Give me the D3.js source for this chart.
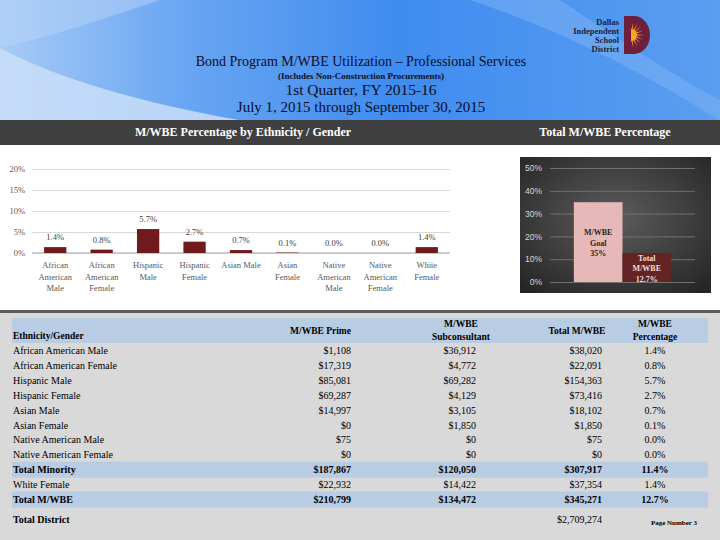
<!DOCTYPE html>
<html><head><meta charset="utf-8">
<script src="https://cdn.jsdelivr.net/npm/d3@7"></script>
<style>body{margin:0;background:#fff}svg{display:block}text{font-family:"Liberation Serif","Times New Roman",serif}</style>
</head><body><svg id="c" width="720" height="540"></svg>
<script>
// ---------- data ----------
const categories = ["African American Male","African American Female","Hispanic Male","Hispanic Female","Asian Male","Asian Female","Native American Male","Native American Female","White Female"];
const pctValues = [1.4,0.8,5.7,2.7,0.7,0.1,0.0,0.0,1.4];
const leftTicks = [0,5,10,15,20];
const totalCategories = ["M/WBE Goal","Total M/WBE"];
const totalValues = [35,12.7];
const totalLabels = [["M/WBE","Goal","35%"],["Total","M/WBE","12.7%"]];
const rightTicks = [0,10,20,30,40,50];
const tableRows = ["African American Male","African American Female","Hispanic Male","Hispanic Female","Asian Male","Asian Female","Native American Male","Native American Female","Total Minority","White Female","Total M/WBE"];
const primeValues = [1108,17319,85081,69287,14997,0,75,0,187867,22932,210799];
const subValues = [36912,4772,69282,4129,3105,1850,0,0,120050,14422,134472];
const totalMwbe = [38020,22091,154363,73416,18102,1850,75,0,307917,37354,345271];
const pctTable = [1.4,0.8,5.7,2.7,0.7,0.1,0.0,0.0,11.4,1.4,12.7];
const totalRows = ["Total Minority","Total M/WBE"];
const totalDistrict = 2709274;

const svg = d3.select("#c");
const defs = svg.append("defs");

// ---------- header background ----------
const bg = defs.append("linearGradient").attr("id","bg").attr("x1","0").attr("y1","0").attr("x2","1").attr("y2","0");
bg.append("stop").attr("offset","0").attr("stop-color","#a7cbf5");
bg.append("stop").attr("offset","0.25").attr("stop-color","#6aa6f2");
bg.append("stop").attr("offset","0.55").attr("stop-color","#3f8cef");
bg.append("stop").attr("offset","1").attr("stop-color","#5a9ef1");
svg.append("rect").attr("x",0).attr("y",0).attr("width",720).attr("height",121).attr("fill","url(#bg)");
svg.append("path").attr("d","M0,48 C60,80 150,105 245,121 L0,121 Z").attr("fill","#c9def8").attr("opacity",0.85);
svg.append("path").attr("d","M0,0 L160,0 C100,20 40,40 0,48 Z").attr("fill","#b8d4f7").attr("opacity",0.5);
svg.append("path").attr("d","M470,0 L560,0 C620,40 680,80 720,100 L720,121 C640,70 560,30 470,0 Z").attr("fill","#7fb3f4").attr("opacity",0.5);

// logo
const logoText = ["Dallas","Independent","School","District"];
svg.append("g").selectAll("text").data(logoText).join("text")
  .attr("x",619).attr("y",(d,i)=>25+i*9).attr("text-anchor","end")
  .attr("font-size",8.5).attr("font-weight","bold").attr("fill","#1a1f3d").text(d=>d);
svg.append("path").attr("d","M624,16 H634 A16,19 0 0 1 634,54 H624 Z").attr("fill","#6e1f3c");
const sun = svg.append("g").attr("transform","translate(631,35)");
d3.range(-80,81,20).forEach(a=>{
  const r=a*Math.PI/180;
  sun.append("path").attr("d",`M${Math.cos(r+0.18)*4},${Math.sin(r+0.18)*4} L${Math.cos(r)*13},${Math.sin(r)*13} L${Math.cos(r-0.18)*4},${Math.sin(r-0.18)*4} Z`).attr("fill","#f7a823");
});
sun.append("path").attr("d","M0,-6 A6,6 0 0 1 0,6 Z").attr("fill","#f7a823");

// titles
const titles = [
  {t:"Bond Program M/WBE Utilization \u2013 Professional Services", y:66, s:14, w:"normal"},
  {t:"(Includes Non-Construction Procurements)", y:79, s:9, w:"bold"},
  {t:"1st Quarter, FY 2015-16", y:95, s:15.5, w:"normal"},
  {t:"July 1, 2015 through September 30, 2015", y:112, s:15, w:"normal"}
];
svg.append("g").selectAll("text").data(titles).join("text")
  .attr("x",361).attr("y",d=>d.y).attr("text-anchor","middle")
  .attr("font-size",d=>d.s).attr("font-weight",d=>d.w).attr("fill","#0d0d26").text(d=>d.t);

// dark section bar
svg.append("rect").attr("x",0).attr("y",120).attr("width",720).attr("height",25).attr("fill","#404040");
svg.append("text").attr("x",243).attr("y",136).attr("text-anchor","middle").attr("font-size",12).attr("font-weight","bold").attr("fill","#fff").text("M/WBE Percentage by Ethnicity / Gender");
svg.append("text").attr("x",605).attr("y",136).attr("text-anchor","middle").attr("font-size",12).attr("font-weight","bold").attr("fill","#fff").text("Total M/WBE Percentage");

// ---------- left chart ----------
const xL = d3.scaleBand().domain(categories).range([32,450]).paddingInner(0.52).paddingOuter(0.26);
const yL = d3.scaleLinear().domain([0,20]).range([253,169]);
const gL = svg.append("g");
const axL = gL.append("g").attr("transform","translate(32,0)")
  .call(d3.axisLeft(yL).tickValues(leftTicks).tickSize(-418).tickFormat(d=>d+"%"));
axL.select(".domain").remove();
axL.selectAll(".tick line").attr("stroke","#d9d9d9");
axL.selectAll(".tick text").attr("x",-7).attr("font-size",8.5).attr("fill","#595959").style("font-family","Liberation Serif");
gL.append("line").attr("x1",32).attr("x2",450).attr("y1",yL(0)).attr("y2",yL(0)).attr("stroke","#bfbfbf").attr("stroke-width",1.5);
gL.selectAll("rect.bar").data(pctValues).join("rect").attr("class","bar")
  .attr("x",(d,i)=>xL(categories[i])).attr("width",xL.bandwidth())
  .attr("y",d=>yL(d)).attr("height",d=>yL(0)-yL(d)).attr("fill","#6f1a1c");
gL.selectAll("text.vl").data(pctValues).join("text").attr("class","vl")
  .attr("x",(d,i)=>xL(categories[i])+xL.bandwidth()/2).attr("y",d=>yL(d)-7)
  .attr("text-anchor","middle").attr("font-size",8.5).attr("fill","#404040").text(d=>d.toFixed(1)+"%");
// wrapped category labels
function wrapLines(s){
  const w=s.split(" "); const lines=[]; let cur="";
  w.forEach(word=>{ const t=cur?cur+" "+word:word; if(t.length>10 && cur){lines.push(cur);cur=word;} else cur=t; });
  lines.push(cur); return lines;
}
categories.forEach(c=>{
  const t=gL.append("text").attr("x",xL(c)+xL.bandwidth()/2).attr("y",268).attr("text-anchor","middle").attr("font-size",8.5).attr("fill","#595959");
  wrapLines(c).forEach((l,i)=>t.append("tspan").attr("x",xL(c)+xL.bandwidth()/2).attr("dy",i?11.5:0).text(l));
});

// ---------- right chart ----------
const rg = defs.append("radialGradient").attr("id","rg").attr("cx","0.5").attr("cy","0.45").attr("r","0.7");
rg.append("stop").attr("offset","0").attr("stop-color","#5c5c5c");
rg.append("stop").attr("offset","1").attr("stop-color","#262626");
svg.append("rect").attr("x",520).attr("y",157).attr("width",191).attr("height",136).attr("fill","url(#rg)");
const xR = d3.scaleBand().domain(totalCategories).range([550,695]).paddingInner(0).paddingOuter(0.49);
const yR = d3.scaleLinear().domain([0,50]).range([282,168]);
const axR = svg.append("g").attr("transform","translate(550,0)")
  .call(d3.axisLeft(yR).tickValues(rightTicks).tickSize(-145).tickFormat(d=>d+"%"));
axR.select(".domain").remove();
axR.selectAll(".tick line").attr("stroke","#707070");
axR.selectAll(".tick text").attr("x",-8).attr("font-size",8.5).attr("fill","#d9d9d9").style("font-family","Liberation Sans");
const barCol = ["#e6b9b8","#632523"], lblCol = ["#262626","#f2dcdb"];
svg.append("g").selectAll("rect").data(totalValues).join("rect")
  .attr("x",(d,i)=>xR(totalCategories[i])).attr("width",xR.bandwidth())
  .attr("y",d=>yR(d)).attr("height",d=>yR(0)-yR(d)).attr("fill",(d,i)=>barCol[i]);
totalValues.forEach((v,i)=>{
  const cx=xR(totalCategories[i])+xR.bandwidth()/2, cy=(yR(v)+yR(0))/2;
  const t=svg.append("text").attr("text-anchor","middle").attr("font-size",8).attr("font-weight","bold").attr("fill",lblCol[i]);
  totalLabels[i].forEach((l,j)=>t.append("tspan").attr("x",cx).attr("y",cy-7+j*10.5).text(l));
});

// ---------- table ----------
svg.append("rect").attr("x",0).attr("y",310).attr("width",720).attr("height",3).attr("fill","#5a5a5a");
svg.append("rect").attr("x",0).attr("y",313).attr("width",720).attr("height",227).attr("fill","#d9d9d9");
svg.append("rect").attr("x",12).attr("y",318).attr("width",696).attr("height",25).attr("fill","#b8cce4");
const tb = svg.append("g").attr("font-size",10).attr("fill","#000");
const hdr = (x,anchor,lines)=>{
  const t=tb.append("text").attr("text-anchor",anchor).attr("font-weight","bold").attr("font-size",9.5);
  lines.forEach((l,j)=>t.append("tspan").attr("x",x).attr("y",(lines.length===1?334:327)+j*13).text(l));
};
tb.append("text").attr("x",13).attr("y",339).attr("font-weight","bold").attr("font-size",9.5).text("Ethnicity/Gender");
hdr(351,"end",["M/WBE Prime"]);
hdr(461,"middle",["M/WBE","Subconsultant"]);
hdr(577,"middle",["Total M/WBE"]);
hdr(655,"middle",["M/WBE","Percentage"]);
const rowY = i=>354+i*14.9;
const fm = d3.format("$,");
tableRows.forEach((r,i)=>{
  const isT = totalRows.includes(r);
  if(isT) tb.append("rect").attr("x",12).attr("y",rowY(i)-11.5).attr("width",696).attr("height",16).attr("fill","#b8cce4");
  const fw = isT?"bold":"normal";
  tb.append("text").attr("x",13).attr("y",rowY(i)).attr("font-weight",fw).text(r);
  tb.append("text").attr("x",351).attr("y",rowY(i)).attr("text-anchor","end").attr("font-weight",fw).text(fm(primeValues[i]));
  tb.append("text").attr("x",476).attr("y",rowY(i)).attr("text-anchor","end").attr("font-weight",fw).text(fm(subValues[i]));
  tb.append("text").attr("x",602).attr("y",rowY(i)).attr("text-anchor","end").attr("font-weight",fw).text(fm(totalMwbe[i]));
  tb.append("text").attr("x",655).attr("y",rowY(i)).attr("text-anchor","middle").attr("font-weight",fw).text(pctTable[i].toFixed(1)+"%");
});
tb.append("text").attr("x",13).attr("y",523).attr("font-weight","bold").text("Total District");
tb.append("text").attr("x",602).attr("y",523).attr("text-anchor","end").text(fm(totalDistrict));
tb.append("text").attr("x",674).attr("y",525).attr("text-anchor","middle").attr("font-size",7).attr("font-weight","bold").text("Page Number 3");
</script></body></html>
